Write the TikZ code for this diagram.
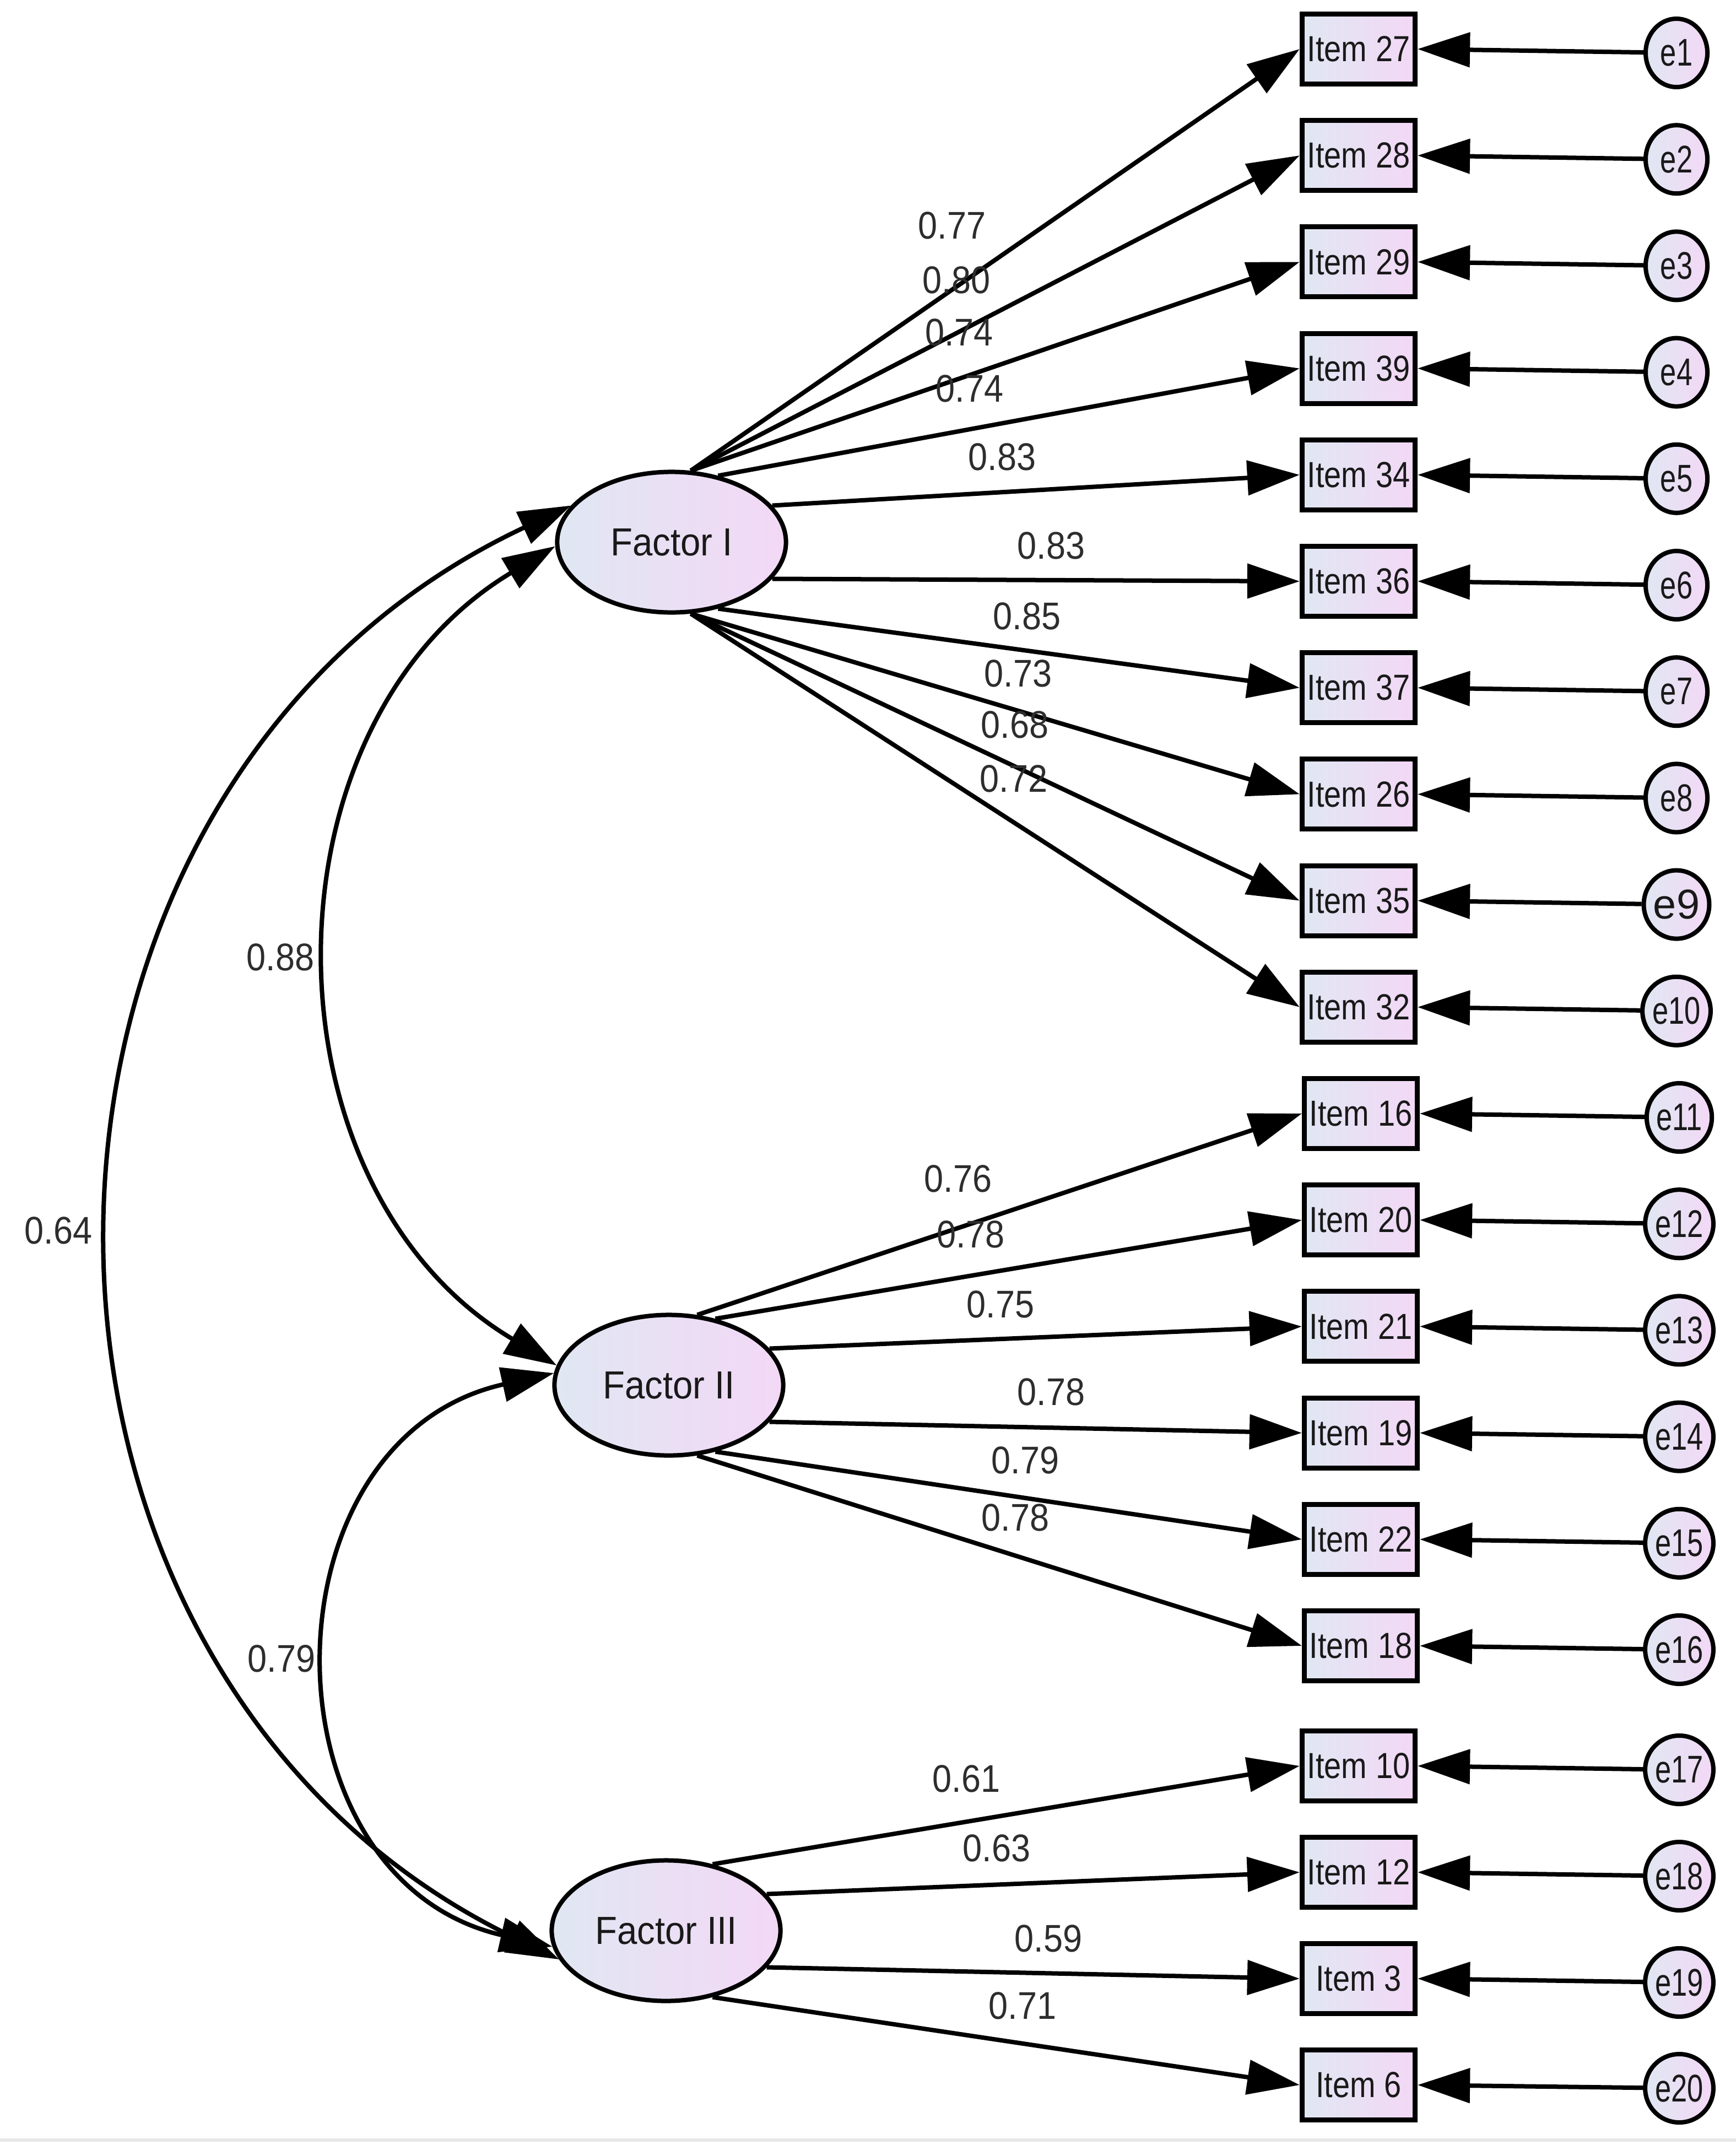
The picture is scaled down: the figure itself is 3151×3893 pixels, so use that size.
\documentclass[tikz,border=0pt]{standalone}
\usepackage{fontspec}
\setmainfont{Liberation Sans}
\newfontfamily\itemfont[FakeStretch=0.85]{Liberation Sans}
\newfontfamily\numfont[FakeStretch=0.9]{Liberation Sans}
\newfontfamily\errfont[FakeStretch=0.75]{Liberation Sans}
\newfontfamily\facfont[FakeStretch=0.92]{Liberation Sans}
\usetikzlibrary{arrows.meta,shapes.geometric}
\definecolor{shA}{RGB}{224,231,243}
\definecolor{shB}{RGB}{243,216,245}
\definecolor{txt}{RGB}{25,25,25}
\definecolor{lbl}{RGB}{45,45,45}
\definecolor{edge}{RGB}{232,232,232}
\begin{document}
\begin{tikzpicture}[x=0.01cm,y=0.01cm,
  >={Triangle[length=0.95cm,width=0.62cm]},
  lat/.style={ellipse, draw=black, line width=0.08cm, minimum width=4.15cm, minimum height=2.55cm,
    inner sep=0pt, left color=shA, right color=shB, text=txt, font=\facfont\fontsize{20.2}{22}\selectfont},
  obs/.style={rectangle, draw=black, line width=0.09cm, minimum width=2.05cm, minimum height=1.27cm,
    inner sep=0pt, left color=shA, right color=shB, text=txt, font=\itemfont\fontsize{18.7}{20}\selectfont},
  err/.style={ellipse, draw=black, line width=0.08cm, minimum width=1.12cm, minimum height=1.24cm,
    inner sep=0pt, left color=shA, right color=shB, text=txt, font=\errfont\fontsize{19.9}{21}\selectfont},
  load/.style={->, line width=0.08cm, black},
  cov/.style={<->, line width=0.08cm, black},
  lab/.style={inner sep=0pt, text=lbl, font=\numfont\fontsize{19.9}{21}\selectfont}
]
\fill[white] (0,0) rectangle (3151,-3893);
\useasboundingbox (0,0) rectangle (3151,-3893);
\draw[edge, line width=0.06cm] (0,-3884) -- (3151,-3884);

% latent factors
\node[lat] (F1) at (1219,-984) {Factor I};
\node[lat] (F2) at (1214,-2514) {Factor II};
\node[lat] (F3) at (1209,-3504) {Factor III};

% observed items
\foreach \nm/\xx/\yy in {27/2466/89, 28/2466/282.2, 29/2466/475.4, 39/2466/668.6, 34/2466/861.8,
  36/2466/1055, 37/2466/1248.2, 26/2466/1441.4, 35/2466/1634.6, 32/2466/1827.8,
  16/2470/2021, 20/2470/2214.2, 21/2470/2407.4, 19/2470/2600.6, 22/2470/2793.8, 18/2470/2987,
  10/2466/3205, 12/2466/3398, 3/2466/3591, 6/2466/3784}
  \node[obs] (I\nm) at (\xx,-\yy) {Item \nm};

% error terms
\foreach \k/\xx/\yy in {1/3043/96, 2/3043/289.2, 3/3043/482.4, 4/3043/675.6, 5/3043/868.8,
  6/3043/1062, 7/3043/1255.2, 8/3043/1448.4, 10/3043/1834.8,
  11/3048/2028, 12/3048/2221.2, 13/3048/2414.4, 14/3048/2607.6, 15/3048/2800.8, 16/3048/2994,
  17/3048/3212, 18/3048/3405, 19/3048/3598, 20/3048/3790}
  \node[err] (e\k) at (\xx,-\yy) {e\k};
\node[err, font=\fontsize{21.5}{23}\selectfont] (e9) at (3043,-1641.6) {e9};

% error arrows
\foreach \k/\nm in {1/27, 2/28, 3/29, 4/39, 5/34, 6/36, 7/37, 8/26, 9/35, 10/32,
  11/16, 12/20, 13/21, 14/19, 15/22, 16/18, 17/10, 18/12, 19/3, 20/6}
  \draw[load] (e\k) -- (I\nm.east);

% loadings
\foreach \f/\a/\nm in {1/75/27, 1/75/28, 1/75/29, 1/55/39, 1/20/34, 1/340/36, 1/305/37,
  1/285/26, 1/285/35, 1/285/32,
  2/68/16, 2/55/20, 2/20/21, 2/340/19, 2/305/22, 2/292/18,
  3/55/10, 3/20/12, 3/340/3, 3/305/6}
  \draw[load] (F\f.\a) -- (I\nm.west);

% covariances
\draw[cov] (F1.160) .. controls +(205.14:12.07cm) and +(154.07:12.07cm) .. (F3.195);
\draw[cov] (F1.182) .. controls +(211.03:6.32cm) and +(149.17:6.32cm) .. (F2.170);
\draw[cov] (F2.174) .. controls +(192.58:5.48cm) and +(167.12:5.48cm) .. (F3.188);

% loading labels
\node[lab] (L27) at (1728,-409) {0.77};
\node[lab] (L28) at (1736,-508) {0.80};
\node[lab] (L29) at (1741,-603) {0.74};
\node[lab] (L39) at (1760,-705) {0.74};
\node[lab] (L34) at (1819,-829) {0.83};
\node[lab] (L36) at (1908,-990) {0.83};
\node[lab] (L37) at (1864,-1118) {0.85};
\node[lab] (L26) at (1848,-1222) {0.73};
\node[lab] (L35) at (1842,-1315) {0.68};
\node[lab] (L32) at (1840,-1413) {0.72};
\node[lab] (L16) at (1739,-2139) {0.76};
\node[lab] (L20) at (1762,-2240) {0.78};
\node[lab] (L21) at (1816,-2367) {0.75};
\node[lab] (L19) at (1908,-2526) {0.78};
\node[lab] (L22) at (1861,-2650) {0.79};
\node[lab] (L18) at (1843,-2754) {0.78};
\node[lab] (L10) at (1754,-3228) {0.61};
\node[lab] (L12) at (1809,-3354) {0.63};
\node[lab] (L3) at (1903,-3518) {0.59};
\node[lab] (L6) at (1856,-3640) {0.71};

% covariance labels
\node[lab] (C12) at (509,-1737) {0.88};
\node[lab] (C13) at (106,-2233) {0.64};
\node[lab] (C23) at (511,-3010) {0.79};
\end{tikzpicture}
\end{document}
